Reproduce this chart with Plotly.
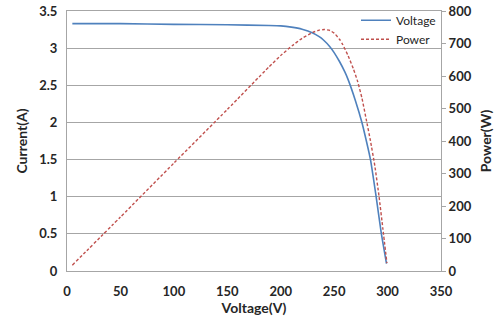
import plotly.graph_objects as go

# Current curve (left axis)
voltage_i = [5, 50, 100, 150, 189, 200, 210, 220, 230, 236, 240, 246, 250, 255, 260, 263,
             270, 276, 280, 284, 289, 294, 299]
current = [3.33, 3.33, 3.32, 3.315, 3.305, 3.30, 3.283, 3.255, 3.205, 3.155, 3.11, 3.02, 2.94, 2.82,
           2.68, 2.58, 2.29, 2.0, 1.76, 1.5, 1.03, 0.52, 0.1]

# Power curve (right axis)
voltage_p = [5, 50, 100, 150, 189, 200, 211, 220, 230, 236, 241, 246, 250, 255, 258, 263,
             268, 272, 276, 280, 284, 288, 292, 295.6, 299.4]
power = [18, 166, 332, 497, 628, 663, 694, 716, 734, 741, 743, 740, 732, 713, 697, 663,
         622, 583, 532, 467, 400, 325, 230, 130, 24]

x_ticks = [0, 50, 100, 150, 200, 250, 300, 350]

FONT = "Lato, 'Open Sans', sans-serif"
TXT = "#262626"
GRID = "#a6a6a6"

fig = go.Figure()
fig.add_trace(go.Scatter(x=voltage_i, y=current, name="Voltage", mode="lines",
                         line=dict(color="#4f81bd", width=1.6, shape="spline", smoothing=0.5),
                         yaxis="y"))
fig.add_trace(go.Scatter(x=voltage_p, y=power, name="Power", mode="lines",
                         line=dict(color="#c0504d", width=1.4, dash="3px,2px", shape="spline", smoothing=0.5),
                         yaxis="y2"))

fig.update_layout(
    width=495, height=323,
    margin=dict(l=67, r=54, t=11, b=52, autoexpand=False),
    paper_bgcolor="white", plot_bgcolor="white",
    font=dict(family=FONT, color=TXT),
    showlegend=True,
    legend=dict(x=1.0, y=1.02, xanchor="right", yanchor="top", bgcolor="rgba(0,0,0,0)",
                font=dict(size=12, color=TXT), itemwidth=30, tracegroupgap=0),
    xaxis=dict(range=[0, 350], tickvals=x_ticks, showgrid=False, zeroline=False, automargin=False,
               showline=True, linecolor=GRID, linewidth=1, mirror=True, ticks="",
               tickfont=dict(size=13, weight="bold", color=TXT), ticklabelstandoff=8,
               title=dict(text="Voltage(V)", font=dict(size=14, weight="bold", color=TXT), standoff=4)),
    yaxis=dict(range=[0, 3.5], dtick=0.5, showgrid=True, gridcolor=GRID, gridwidth=1, automargin=False,
               zeroline=False, showline=True, linecolor=GRID, ticks="",
               tickfont=dict(size=13, weight="bold", color=TXT), ticklabelstandoff=6,
               title=dict(text="Current(A)", font=dict(size=14, weight="bold", color=TXT), standoff=8)),
    yaxis2=dict(range=[0, 800], dtick=100, overlaying="y", side="right", showgrid=False, automargin=False,
                zeroline=False, showline=True, linecolor=GRID, ticks="outside", ticklen=4,
                tickcolor=GRID, tickfont=dict(size=13, weight="bold", color=TXT),
                title=dict(text="Power(W)", font=dict(size=14, weight="bold", color=TXT), standoff=10)),
)

fig.write_html("out.html")
